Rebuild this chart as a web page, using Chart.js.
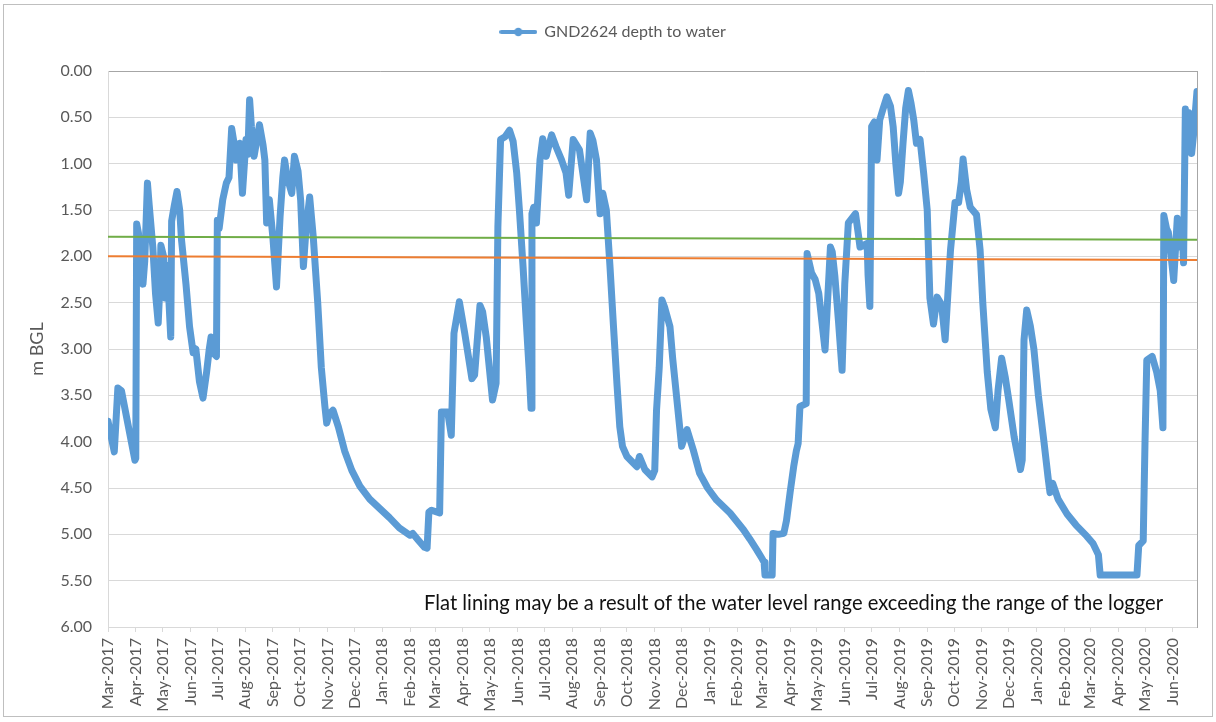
<!DOCTYPE html>
<html>
<head>
<meta charset="utf-8">
<script src="https://cdn.jsdelivr.net/npm/chart.js@4/dist/chart.umd.min.js"></script>
<style>
html,body{margin:0;padding:0;background:#ffffff;}
#wrap{position:relative;width:1216px;height:722px;}
</style>
</head>
<body>
<div id="wrap"><canvas id="c" width="1216" height="722"></canvas></div>
<script>
// ---------------- DATA ----------------
const seriesName = 'GND2624 depth to water';
const noteText = 'Flat lining may be a result of the water level range exceeding the range of the logger';
const axisTitle = 'm BGL';
const startYear = 2017, startMonth = 2; // day 0 = 1 Mar 2017

const monthLabels = ['Mar-2017','Apr-2017','May-2017','Jun-2017','Jul-2017','Aug-2017','Sep-2017','Oct-2017','Nov-2017','Dec-2017',
  'Jan-2018','Feb-2018','Mar-2018','Apr-2018','May-2018','Jun-2018','Jul-2018','Aug-2018','Sep-2018','Oct-2018','Nov-2018','Dec-2018',
  'Jan-2019','Feb-2019','Mar-2019','Apr-2019','May-2019','Jun-2019','Jul-2019','Aug-2019','Sep-2019','Oct-2019','Nov-2019','Dec-2019',
  'Jan-2020','Feb-2020','Mar-2020','Apr-2020','May-2020','Jun-2020'];

// days since 1 Mar 2017
const dayOffset = [
  0,7,11,15,30,31,32,34,36,39,
  41,44,46,50,53,56,58,59,62,64,
  66,70,71,74,77,80,82,87,91,95,
  98,102,106,110,113,115,118,121,122,124,
  128,132,135,138,141,143,147,150,154,156,
  158,160,163,166,169,173,175,177,180,184,
  188,192,195,197,200,205,208,212,215,218,
  221,225,229,234,238,242,244,247,251,257,
  264,272,281,292,303,314,325,331,337,340,
  346,353,356,358,361,370,372,379,383,386,
  392,398,406,409,415,418,422,429,433,435,
  438,443,448,452,456,459,463,467,470,472,
  473,475,478,482,485,489,495,500,506,511,
  514,519,526,534,538,541,545,549,552,556,
  560,564,568,571,574,579,585,590,593,599,
  607,610,612,615,618,621,627,630,634,640,
  646,653,660,669,679,694,709,716,724,729,
  732,733,741,742,748,754,757,761,765,768,
  770,772,779,780,785,789,793,797,800,806,
  808,811,815,819,822,826,834,837,839,847,
  848,850,852,855,858,861,865,869,873,876,
  879,882,884,887,890,893,896,899,902,906,
  910,914,917,921,925,930,934,940,945,949,
  952,954,958,962,969,973,976,981,985,990,
  993,997,1001,1005,1011,1018,1020,1022,1025,1029,
  1033,1038,1044,1049,1051,1054,1060,1070,1080,1092,
  1099,1105,1107,1148,1150,1155,1157,1159,1165,1170,
  1174,1177,1178,1181,1183,1185,1189,1193,1195,1198,
  1200,1202,1204,1206,1209,1211,1215
];

// depth to water, m below ground level
const depthToWater = [
  3.78,4.11,3.42,3.45,4.20,4.18,1.65,1.75,2.10,2.30,
  2.05,1.21,1.45,1.90,2.40,2.72,2.30,1.88,2.00,2.45,
  2.10,2.87,1.62,1.45,1.30,1.50,1.82,2.30,2.76,3.04,
  3.00,3.35,3.53,3.25,3.00,2.87,3.05,3.08,1.61,1.70,
  1.39,1.21,1.15,0.62,0.80,0.96,0.78,1.32,0.74,0.90,
  0.31,0.60,0.92,0.75,0.58,0.80,0.96,1.64,1.39,1.80,
  2.33,1.57,1.15,0.96,1.15,1.32,0.92,1.08,1.40,2.11,
  1.70,1.36,1.79,2.50,3.20,3.62,3.80,3.70,3.66,3.84,
  4.10,4.31,4.48,4.62,4.72,4.82,4.93,4.97,5.01,4.99,
  5.06,5.14,5.15,4.76,4.74,4.77,3.68,3.68,3.93,2.83,
  2.49,2.83,3.32,3.28,2.53,2.60,2.87,3.55,3.37,1.68,
  0.74,0.71,0.64,0.76,1.10,1.50,2.10,2.76,3.25,3.64,
  1.54,1.47,1.64,0.96,0.73,0.92,0.69,0.82,0.96,1.10,
  1.34,0.74,0.85,1.39,0.67,0.75,0.96,1.54,1.32,1.50,
  2.10,2.76,3.40,3.84,4.05,4.16,4.22,4.27,4.16,4.30,
  4.38,4.31,3.66,3.20,2.47,2.55,2.76,3.10,3.48,4.05,
  3.87,4.09,4.34,4.50,4.63,4.77,4.95,5.05,5.17,5.25,
  5.30,5.44,5.44,4.99,5.00,4.99,4.85,4.55,4.27,4.10,
  4.02,3.62,3.59,1.97,2.18,2.25,2.40,2.75,3.01,1.90,
  1.95,2.22,2.70,3.23,2.30,1.64,1.54,1.75,1.90,1.86,
  2.20,2.54,0.60,0.55,0.96,0.53,0.40,0.28,0.38,0.60,
  1.00,1.32,1.20,0.78,0.40,0.21,0.35,0.53,0.78,0.74,
  1.10,1.50,2.45,2.73,2.44,2.52,2.90,1.93,1.42,1.42,
  1.20,0.95,1.28,1.47,1.55,1.93,2.50,3.25,3.65,3.85,
  3.45,3.10,3.30,3.55,3.95,4.30,4.20,2.90,2.58,2.75,
  3.00,3.50,3.98,4.40,4.55,4.45,4.62,4.78,4.90,5.02,
  5.10,5.22,5.44,5.44,5.12,5.07,4.00,3.12,3.08,3.25,
  3.45,3.85,1.56,1.70,1.74,1.90,2.26,1.59,1.90,1.63,
  2.07,0.41,0.85,0.45,0.89,0.70,0.22
];

// reference levels (start / end of record)
const refDays = [0, 1215];
const greenLevel = [1.79, 1.82];
const orangeLevel = [2.00, 2.04];

const yMin = 0, yMax = 6, yStep = 0.5;

// ---------------- CHART ----------------
const MON = {Jan:0,Feb:1,Mar:2,Apr:3,May:4,Jun:5,Jul:6,Aug:7,Sep:8,Oct:9,Nov:10,Dec:11};
const t0 = Date.UTC(startYear, startMonth, 1);
const monthTicks = monthLabels.map(l => {
  const [m, y] = l.split('-');
  return Math.round((Date.UTC(+y, MON[m], 1) - t0) / 86400000);
});

const BLUE = '#5B9BD5', GREEN = '#70AD47', ORANGE = '#ED7D31', TXT = '#595959';
const FONT = 'Lato, "Open Sans", sans-serif';

// legend symbol: line with a circular marker
const legendImg = document.createElement('canvas');
legendImg.width = 38; legendImg.height = 12;
(function(){
  const g = legendImg.getContext('2d');
  g.strokeStyle = BLUE; g.lineWidth = 4; g.lineCap = 'round';
  g.beginPath(); g.moveTo(2, 6); g.lineTo(36, 6); g.stroke();
  g.fillStyle = BLUE; g.beginPath(); g.arc(19, 6, 4.2, 0, Math.PI * 2); g.fill();
})();

const PAD = {left: 10, right: 0, top: 14, bottom: 0};
const AREA = {left: 108, right: 1197, top: 71, bottom: 627};

const decor = {
  id: 'decor',
  beforeDraw(chart) {
    const ctx = chart.ctx;
    ctx.save();
    ctx.fillStyle = '#ffffff';
    ctx.fillRect(0, 0, chart.width, chart.height);
    ctx.restore();
  },
  afterDraw(chart) {
    const {ctx, chartArea: a} = chart;
    ctx.save();
    ctx.strokeStyle = '#BFBFBF';
    ctx.lineWidth = 1;
    ctx.strokeRect(3.5, 4.5, 1209, 712);
    // note text
    ctx.font = '16px ' + FONT;
    const w = ctx.measureText(noteText).width;
    const size = 16 * 739 / w;
    ctx.font = size.toFixed(2) + 'px ' + FONT;
    ctx.fillStyle = '#111111';
    ctx.textAlign = 'right';
    ctx.textBaseline = 'middle';
    ctx.fillText(noteText, a.right - 34, a.bottom - 24);
    ctx.restore();
  }
};

new Chart(document.getElementById('c'), {
  type: 'line',
  data: {
    datasets: [
      {
        label: seriesName,
        data: dayOffset.map((d, i) => ({x: d, y: depthToWater[i]})),
        borderColor: BLUE,
        backgroundColor: BLUE,
        borderWidth: 7,
        borderJoinStyle: 'round',
        borderCapStyle: 'round',
        pointRadius: 0,
        tension: 0,
        order: 3
      },
      {
        label: 'green',
        data: refDays.map((d, i) => ({x: d, y: greenLevel[i]})),
        borderColor: GREEN,
        borderWidth: 2,
        pointRadius: 0,
        order: 1
      },
      {
        label: 'orange',
        data: refDays.map((d, i) => ({x: d, y: orangeLevel[i]})),
        borderColor: ORANGE,
        borderWidth: 2,
        pointRadius: 0,
        order: 2
      }
    ]
  },
  options: {
    responsive: false,
    animation: false,
    devicePixelRatio: 1,
    layout: {padding: PAD},
    plugins: {
      tooltip: {enabled: false},
      legend: {
        display: true,
        position: 'top',
        align: 'center',
        labels: {
          usePointStyle: true,
          pointStyle: legendImg,
          pointStyleWidth: 36,
          color: TXT,
          font: {family: FONT, size: 16},
          padding: 10,
          filter: item => item.datasetIndex === 0
        }
      }
    },
    scales: {
      x: {
        type: 'linear',
        position: 'bottom',
        min: refDays[0],
        max: refDays[1],
        afterBuildTicks: s => { s.ticks = monthTicks.map(v => ({value: v})); },
        afterFit: s => { s.height = 722 - AREA.bottom - PAD.bottom; },
        ticks: {
          autoSkip: false,
          maxRotation: 90,
          minRotation: 90,
          padding: 6,
          color: TXT,
          font: {family: FONT, size: 16},
          callback: v => monthLabels[monthTicks.indexOf(v)]
        },
        grid: {drawOnChartArea: false, drawTicks: true, tickLength: 5, color: '#D9D9D9'},
        border: {display: false}
      },
      xTop: {
        type: 'linear',
        position: 'top',
        min: 0, max: 1,
        afterFit: s => { s.height = 21; },
        ticks: {display: false},
        grid: {display: false, drawTicks: false},
        border: {display: true, color: '#A6A6A6', width: 1}
      },
      y: {
        type: 'linear',
        position: 'left',
        reverse: true,
        min: yMin, max: yMax,
        afterFit: s => { s.width = AREA.left - PAD.left; },
        ticks: {
          stepSize: yStep,
          padding: 16,
          color: TXT,
          font: {family: FONT, size: 16},
          callback: v => Number(v).toFixed(2)
        },
        grid: {color: '#D9D9D9', lineWidth: 1, drawTicks: false},
        border: {color: '#D9D9D9'},
        title: {
          display: true,
          text: axisTitle,
          color: TXT,
          font: {family: FONT, size: 18},
          padding: {top: 16, bottom: 0}
        }
      },
      yRight: {
        type: 'linear',
        position: 'right',
        min: 0, max: 1,
        afterFit: s => { s.width = 1216 - AREA.right - PAD.right; },
        ticks: {display: false},
        grid: {display: false, drawTicks: false},
        border: {display: true, color: '#A6A6A6', width: 1}
      }
    }
  },
  plugins: [decor]
});
</script>
</body>
</html>
